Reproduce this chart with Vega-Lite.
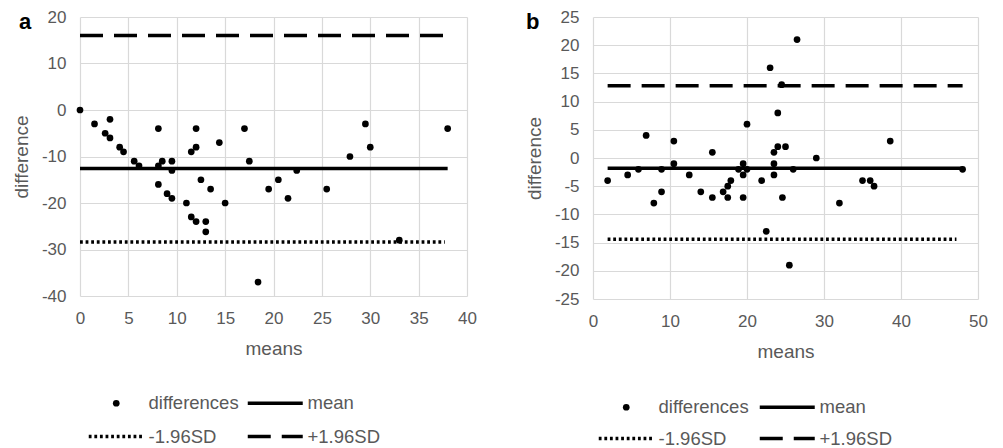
{
  "$schema": "https://vega.github.io/schema/vega-lite/v6.json",
  "padding": {"left": 12, "top": 8, "right": 5, "bottom": 5},
  "background": "white",
  "config": {
    "view": {"stroke": null},
    "font": "Liberation Sans",
    "axis": {
      "labelFont": "Liberation Sans",
      "labelFontSize": 17,
      "labelColor": "#595959",
      "titleFont": "Liberation Sans",
      "titleFontSize": 19,
      "titleColor": "#595959",
      "titleFontWeight": "normal",
      "gridColor": "#d9d9d9",
      "gridWidth": 1.2,
      "domain": false,
      "ticks": false,
      "labelPadding": 14,
      "labelFlush": false,
      "labelOverlap": false,
      "labelBound": false,
      "labelExpr": "toString(datum.value)"
    },
    "axisY": {"labelOverlap": false},
    "legend": {
      "title": null,
      "orient": "none",
      "columns": 2,
      "direction": "horizontal",
      "rowPadding": 14.5,
      "columnPadding": 8,
      "symbolOffset": 18,
      "labelOffset": 23,
      "labelFont": "Liberation Sans",
      "labelFontSize": 18.5,
      "labelColor": "#595959",
      "padding": 0,
      "symbolSize": 3025,
      "symbolStrokeWidth": 3.5,
      "symbolStrokeColor": "black",
      "symbolFillColor": "black",
      "symbolOpacity": 1
    }
  },
  "datasets": {
    "pa": [
      {"x": 0, "y": 0}, {"x": 1.5, "y": -3}, {"x": 2.6, "y": -5}, {"x": 3.1, "y": -2}, {"x": 3.1, "y": -6},
      {"x": 4.1, "y": -8}, {"x": 4.5, "y": -9}, {"x": 5.6, "y": -11}, {"x": 6.1, "y": -12}, {"x": 8.1, "y": -4},
      {"x": 8.1, "y": -12}, {"x": 8.5, "y": -11}, {"x": 9.5, "y": -11}, {"x": 9.5, "y": -13}, {"x": 8.1, "y": -16},
      {"x": 9, "y": -18}, {"x": 9.5, "y": -19}, {"x": 11.5, "y": -9}, {"x": 12, "y": -8}, {"x": 12, "y": -4},
      {"x": 12.5, "y": -15}, {"x": 13.5, "y": -17}, {"x": 14.4, "y": -7}, {"x": 11, "y": -20}, {"x": 11.5, "y": -23},
      {"x": 12, "y": -24}, {"x": 13, "y": -24}, {"x": 13, "y": -26.2}, {"x": 15, "y": -20}, {"x": 17, "y": -4},
      {"x": 17.5, "y": -11}, {"x": 18.4, "y": -37}, {"x": 19.5, "y": -17}, {"x": 20.5, "y": -15}, {"x": 21.5, "y": -19},
      {"x": 22.4, "y": -13}, {"x": 25.5, "y": -17}, {"x": 27.9, "y": -10}, {"x": 29.5, "y": -3}, {"x": 30, "y": -8},
      {"x": 33, "y": -28}, {"x": 38, "y": -4}
    ],
    "la": [
      {"series": "mean", "x": 0, "x2": 38, "y": -12.6},
      {"series": "-1.96SD", "x": 0, "x2": 37.7, "y": -28.4},
      {"series": "+1.96SD", "x": 0, "x2": 38, "y": 16}
    ],
    "pb": [
      {"x": 1.9, "y": -4}, {"x": 4.5, "y": -3}, {"x": 5.9, "y": -2}, {"x": 6.9, "y": 4}, {"x": 8.9, "y": -2},
      {"x": 8.9, "y": -6}, {"x": 7.9, "y": -8}, {"x": 10.5, "y": 3}, {"x": 10.5, "y": -1}, {"x": 12.5, "y": -3},
      {"x": 14, "y": -6}, {"x": 15.5, "y": 1}, {"x": 15.5, "y": -7}, {"x": 16.9, "y": -6}, {"x": 17.5, "y": -5},
      {"x": 17.9, "y": -4}, {"x": 17.5, "y": -7}, {"x": 19.5, "y": -7}, {"x": 19.5, "y": -1}, {"x": 19.5, "y": -3},
      {"x": 18.9, "y": -2}, {"x": 20, "y": -2}, {"x": 20, "y": 6}, {"x": 21.9, "y": -4}, {"x": 23, "y": 16},
      {"x": 24.5, "y": 13}, {"x": 24, "y": 8}, {"x": 23.5, "y": 1}, {"x": 24, "y": 2}, {"x": 25, "y": 2},
      {"x": 23.5, "y": -1}, {"x": 23.5, "y": -3}, {"x": 26, "y": -2}, {"x": 26.5, "y": 21}, {"x": 29, "y": 0},
      {"x": 35, "y": -4}, {"x": 36, "y": -4}, {"x": 36.5, "y": -5}, {"x": 38.6, "y": 3}, {"x": 48, "y": -2},
      {"x": 24.6, "y": -7}, {"x": 32, "y": -8}, {"x": 22.5, "y": -13}, {"x": 25.5, "y": -19}
    ],
    "lb": [
      {"series": "mean", "x": 1.9, "x2": 48, "y": -1.8},
      {"series": "-1.96SD", "x": 1.9, "x2": 47.2, "y": -14.4},
      {"series": "+1.96SD", "x": 1.9, "x2": 48, "y": 12.8}
    ]
  },
  "hconcat": [
    {
      "width": 387,
      "height": 279,
      "title": {"text": "a", "anchor": "start", "frame": "group", "font": "Liberation Sans", "fontSize": 22, "fontWeight": "bold", "color": "black", "baseline": "alphabetic", "offset": 0, "dx": -61, "dy": 43},
      "encoding": {
        "x": {"field": "x", "type": "quantitative", "scale": {"domain": [0, 40], "nice": false}, "axis": {"values": [0, 5, 10, 15, 20, 25, 30, 35, 40], "title": "means", "titlePadding": 13, "grid": true, "labelOverlap": false}},
        "y": {"field": "y", "type": "quantitative", "scale": {"domain": [-40, 20], "nice": false}, "axis": {"values": [-40, -30, -20, -10, 0, 10, 20], "title": "difference", "titleX": -59, "titleBaseline": "middle", "grid": true, "labelOverlap": false}}
      },
      "layer": [
        {
          "data": {"name": "la"},
          "mark": {"type": "rule", "strokeWidth": 3.5, "color": "black"},
          "encoding": {
            "x2": {"field": "x2"},
            "strokeDash": {"field": "series", "type": "nominal", "scale": {"domain": ["differences", "mean", "-1.96SD", "+1.96SD"], "range": [[1, 0], [1, 0], [2.8, 2.8], [23, 11]]}, "legend": {"legendX": 9, "legendY": 378, "columnPadding": 1, "rowPadding": 14.5, "encode": {"symbols": {"update": {"y": {"value": 8}, "size": {"signal": "datum.value === 'differences' ? 45 : 3025"}, "strokeWidth": {"signal": "datum.value === 'differences' ? 0 : 3.5"}, "stroke": {"value": "black"}, "fill": {"value": "black"}, "opacity": {"value": 1}}}, "labels": {"update": {"y": {"value": 8}}}}}}
          }
        },
        {
          "data": {"name": "pa"},
          "mark": {"type": "point", "filled": true, "color": "black", "opacity": 1, "size": 45},
          "encoding": {
            "shape": {"datum": "differences", "type": "nominal", "scale": {"domain": ["differences", "mean", "-1.96SD", "+1.96SD"], "range": ["circle", "stroke", "stroke", "stroke"]}, "legend": {"legendX": 9, "legendY": 378, "columnPadding": 1, "rowPadding": 14.5}}
          }
        }
      ]
    },
    {
      "width": 385,
      "height": 282,
      "title": {"text": "b", "anchor": "start", "frame": "group", "font": "Liberation Sans", "fontSize": 22, "fontWeight": "bold", "color": "black", "baseline": "alphabetic", "offset": 0, "dx": -67, "dy": 43},
      "encoding": {
        "x": {"field": "x", "type": "quantitative", "scale": {"domain": [0, 50], "nice": false}, "axis": {"values": [0, 10, 20, 30, 40, 50], "title": "means", "titlePadding": 13, "grid": true, "labelOverlap": false}},
        "y": {"field": "y", "type": "quantitative", "scale": {"domain": [-25, 25], "nice": false}, "axis": {"values": [-25, -20, -15, -10, -5, 0, 5, 10, 15, 20, 25], "title": "difference", "titleX": -59, "titleBaseline": "middle", "grid": true, "labelOverlap": false}}
      },
      "layer": [
        {
          "data": {"name": "lb"},
          "mark": {"type": "rule", "strokeWidth": 3.5, "color": "black"},
          "encoding": {
            "x2": {"field": "x2"},
            "strokeDash": {"field": "series", "type": "nominal", "scale": {"domain": ["differences", "mean", "-1.96SD", "+1.96SD"], "range": [[1, 0], [1, 0], [2.8, 2.8], [23, 11]]}, "legend": {"legendX": 6, "legendY": 382, "columnPadding": 3, "rowPadding": 12.5, "encode": {"symbols": {"update": {"y": {"value": 8}, "size": {"signal": "datum.value === 'differences' ? 45 : 3025"}, "strokeWidth": {"signal": "datum.value === 'differences' ? 0 : 3.5"}, "stroke": {"value": "black"}, "fill": {"value": "black"}, "opacity": {"value": 1}}}, "labels": {"update": {"y": {"value": 8}}}}}}
          }
        },
        {
          "data": {"name": "pb"},
          "mark": {"type": "point", "filled": true, "color": "black", "opacity": 1, "size": 45},
          "encoding": {
            "shape": {"datum": "differences", "type": "nominal", "scale": {"domain": ["differences", "mean", "-1.96SD", "+1.96SD"], "range": ["circle", "stroke", "stroke", "stroke"]}, "legend": {"legendX": 6, "legendY": 382, "columnPadding": 3, "rowPadding": 12.5}}
          }
        }
      ]
    }
  ],
  "spacing": 126,
  "bounds": "flush",
  "resolve": {
    "scale": {"shape": "independent", "strokeDash": "independent"},
    "legend": {"shape": "independent", "strokeDash": "independent"}
  }
}
